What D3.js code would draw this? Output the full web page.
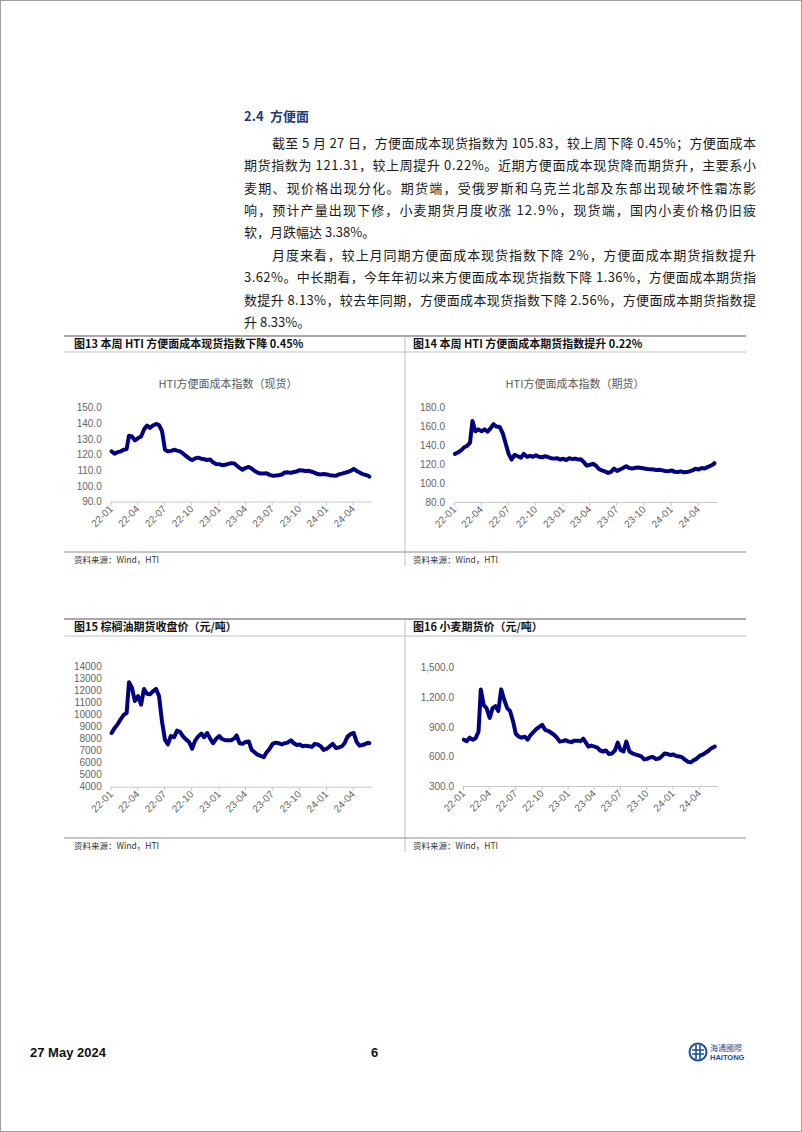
<!DOCTYPE html>
<html>
<head>
<meta charset="utf-8">
<script src="https://cdn.jsdelivr.net/npm/d3@7"></script>
<style>
  body { margin: 0; background: #fff; }
  svg { display: block; }
</style>
</head>
<body>
<script>
// sample dates (roughly every 10 days) shared by all four series
const dates = [
  "2022-01-04","2022-01-14","2022-01-24","2022-02-04","2022-02-14","2022-02-24",
  "2022-03-04","2022-03-14","2022-03-24","2022-04-04","2022-04-14","2022-04-24",
  "2022-05-04","2022-05-14","2022-05-24","2022-06-04","2022-06-14","2022-06-24",
  "2022-07-04","2022-07-14","2022-07-24","2022-08-04","2022-08-14","2022-08-24",
  "2022-09-04","2022-09-14","2022-09-24","2022-10-04","2022-10-14","2022-10-24",
  "2022-11-04","2022-11-14","2022-11-24","2022-12-04","2022-12-14","2022-12-24",
  "2023-01-04","2023-01-14","2023-01-24","2023-02-04","2023-02-14","2023-02-24",
  "2023-03-04","2023-03-14","2023-03-24","2023-04-04","2023-04-14","2023-04-24",
  "2023-05-04","2023-05-14","2023-05-24","2023-06-04","2023-06-14","2023-06-24",
  "2023-07-04","2023-07-14","2023-07-24","2023-08-04","2023-08-14","2023-08-24",
  "2023-09-04","2023-09-14","2023-09-24","2023-10-04","2023-10-14","2023-10-24",
  "2023-11-04","2023-11-14","2023-11-24","2023-12-04","2023-12-14","2023-12-24",
  "2024-01-04","2024-01-14","2024-01-24","2024-02-04","2024-02-14","2024-02-24",
  "2024-03-04","2024-03-14","2024-03-24","2024-04-04","2024-04-14","2024-04-24",
  "2024-05-04","2024-05-14","2024-05-24","2024-05-27"
];

// 图13 HTI方便面成本指数（现货）
const spotIndex = [
  122, 120.5, 121.5, 122, 123, 123.5,
  132, 131.5, 129, 130.5, 131.5, 136,
  138.5, 137, 138.5, 139.5, 138.8, 135,
  123, 122, 122.3, 123, 122.5, 122,
  120.5, 119, 117.5, 116.4, 117.5, 118,
  117.3, 117, 116.5, 116.8, 115, 114,
  113.8, 113.2, 113.5, 114, 114.5, 114.3,
  113, 111.5, 110.3, 111.5, 112, 111,
  109.5, 108.5, 107.8, 107.8, 108, 107,
  106.5, 106.6, 106.8, 107.2, 108.5, 108.6,
  108.3, 108.8, 109.2, 110, 109.8, 109.5,
  109.6, 109, 108.3, 107.5, 107.3, 107.6,
  107.3, 106.8, 106.6, 106.5, 107.3, 107.8,
  108.3, 108.8, 109.5, 110.8, 109.5, 108.5,
  107.5, 107, 106.4, 105.83
];

// 图14 HTI方便面成本指数（期货）
const futuresIndex = [
  131, 132.5, 134.5, 138, 139.5, 143,
  166, 155, 157, 155, 157, 154.5,
  158, 162.5, 160, 159.5, 153, 142,
  131, 125, 130, 128.5, 127, 131,
  128, 129, 128, 129.5, 128, 127.5,
  128.5, 127.5, 126.5, 126, 126.5, 125,
  125.8, 124.5, 126.5, 125.5, 126, 125,
  125.4, 122.5, 118.5, 119.5, 120.5, 118.5,
  115, 113.5, 112.5, 110.8, 112, 115.5,
  113, 114.5, 116, 118, 116, 115.5,
  116.2, 116.5, 116, 115.5, 115, 114.8,
  114.5, 114, 114.2, 113.5, 112.8, 112.6,
  113.5, 112, 111.8, 112.5, 111.5, 111.7,
  112.5, 113.5, 115.2, 114.5, 116, 115.5,
  117, 118.5, 120, 121.31
];

// 图15 棕榈油期货收盘价（元/吨）
const palmOil = [
  8450, 8850, 9150, 9600, 9950, 10100,
  12650, 12200, 11100, 11500, 10800, 12100,
  11700, 11650, 11900, 12100, 11500, 9400,
  7900, 7500, 8200, 8100, 8650, 8550,
  8150, 7900, 7700, 7150, 7800, 8150,
  8400, 8100, 8450, 8000, 7600, 7950,
  8200, 7950, 7850, 7850, 7850, 8000,
  8250, 7600, 7550, 7700, 7750, 7050,
  6850, 6650, 6550, 6450, 6850, 7150,
  7550, 7650, 7600, 7500, 7600, 7650,
  7850, 7600, 7450, 7500, 7350, 7400,
  7350, 7300, 7550, 7500, 7350, 7050,
  7150, 7350, 7550, 7200, 7250, 7350,
  7600, 8150, 8350, 8450, 7700, 7400,
  7450, 7550, 7650, 7600
];

// 图16 小麦期货价（元/吨）
const wheat = [
  770, 755, 790, 770, 785, 850,
  1280, 1120, 1090, 990, 1090, 1110,
  1060, 1280, 1180, 1090, 1060, 960,
  830, 800, 790, 800, 770, 815,
  850, 880, 900, 920, 870, 860,
  840, 820, 790, 750, 755, 765,
  750, 745, 760, 760, 755, 780,
  745, 700, 710, 700, 690, 660,
  650, 660, 625, 630, 660, 740,
  665, 650, 750, 650, 630, 620,
  610, 600, 570, 575, 590, 595,
  574, 578, 600, 630, 625, 614,
  620, 605, 600, 590, 565, 545,
  540, 560, 575, 605, 618, 635,
  655, 680, 695, 700
];

const xTickDates = ["2022-01-01","2022-04-01","2022-07-01","2022-10-01","2023-01-01",
  "2023-04-01","2023-07-01","2023-10-01","2024-01-01","2024-04-01"];

const spotTicks = [90, 100, 110, 120, 130, 140, 150];
const futuresTicks = [80, 100, 120, 140, 160, 180];
const palmTicks = [4000, 5000, 6000, 7000, 8000, 9000, 10000, 11000, 12000, 13000, 14000];
const wheatTicks = [300, 600, 900, 1200, 1500];

const para1 = [
  "截至 5 月 27 日，方便面成本现货指数为 105.83，较上周下降 0.45%；方便面成本",
  "期货指数为 121.31，较上周提升 0.22%。近期方便面成本现货降而期货升，主要系小",
  "麦期、现价格出现分化。期货端，受俄罗斯和乌克兰北部及东部出现破坏性霜冻影",
  "响，预计产量出现下修，小麦期货月度收涨 12.9%，现货端，国内小麦价格仍旧疲",
  "软，月跌幅达 3.38%。"
];
const para2 = [
  "月度来看，较上月同期方便面成本现货指数下降 2%，方便面成本期货指数提升",
  "3.62%。中长期看，今年年初以来方便面成本现货指数下降 1.36%，方便面成本期货指",
  "数提升 8.13%，较去年同期，方便面成本现货指数下降 2.56%，方便面成本期货指数提",
  "升 8.33%。"
];

const parseDate = d3.timeParse("%Y-%m-%d");
const dateObjs = dates.map(parseDate);
const tickObjs = xTickDates.map(parseDate);

const cjk = "'Noto Sans CJK SC', sans-serif";
const latin = "'Liberation Sans', Arial, sans-serif";

const svg = d3.select("body").append("svg")
  .attr("width", 802)
  .attr("height", 1132);

svg.append("rect")
  .attr("x", 0.5).attr("y", 0.5)
  .attr("width", 801).attr("height", 1131)
  .attr("fill", "none")
  .attr("stroke", "#a0a0a0");

// section heading
svg.append("text")
  .attr("x", 244).attr("y", 121)
  .attr("font-family", cjk).attr("font-weight", "bold").attr("font-size", 13)
  .attr("fill", "#1f3a78")
  .text("2.4");
svg.append("text")
  .attr("x", 270).attr("y", 121)
  .attr("font-family", cjk).attr("font-weight", "bold").attr("font-size", 13)
  .attr("fill", "#1f3a78")
  .text("方便面");

function paragraph(lines, y0) {
  lines.forEach((line, i) => {
    const x = i === 0 ? 272 : 244;
    const t = svg.append("text")
      .attr("x", x).attr("y", y0 + i * 22.3)
      .attr("font-family", cjk).attr("font-size", 13)
      .attr("fill", "#1a1a1a")
      .text(line);
    if (i < lines.length - 1) {
      t.attr("textLength", 756 - x).attr("lengthAdjust", "spacing");
    }
  });
}
paragraph(para1, 148);
paragraph(para2, 260);

// figure frames
const rows = [
  {top: 336, sub: 352, bottom: 552, src: 563, end: 566,
   titles: ["图13 本周 HTI 方便面成本现货指数下降 0.45%", "图14 本周 HTI 方便面成本期货指数提升 0.22%"]},
  {top: 619, sub: 636, bottom: 838, src: 849, end: 852,
   titles: ["图15 棕榈油期货收盘价（元/吨）", "图16 小麦期货价（元/吨）"]}
];

rows.forEach((r) => {
  svg.append("line").attr("x1", 64).attr("x2", 746).attr("y1", r.top).attr("y2", r.top)
    .attr("stroke", "#8c8c8c").attr("stroke-width", 1.5);
  svg.append("line").attr("x1", 64).attr("x2", 746).attr("y1", r.sub).attr("y2", r.sub)
    .attr("stroke", "#b0b0b0").attr("stroke-width", 0.8);
  svg.append("line").attr("x1", 64).attr("x2", 746).attr("y1", r.bottom).attr("y2", r.bottom)
    .attr("stroke", "#8c8c8c").attr("stroke-width", 1.2);
  svg.append("line").attr("x1", 405).attr("x2", 405).attr("y1", r.top).attr("y2", r.end)
    .attr("stroke", "#b0b0b0").attr("stroke-width", 0.8);
  [74, 413].forEach((x, i) => {
    svg.append("text")
      .attr("x", x).attr("y", r.top + 11.5)
      .attr("font-family", cjk).attr("font-weight", "bold").attr("font-size", 11)
      .attr("fill", "#111")
      .text(r.titles[i]);
    svg.append("text")
      .attr("x", x).attr("y", r.src)
      .attr("font-family", cjk).attr("font-size", 8.5)
      .attr("fill", "#333")
      .text("资料来源：Wind，HTI");
  });
});

function drawChart(opt) {
  const x = d3.scaleTime()
    .domain([parseDate("2022-01-01"), parseDate("2024-06-01")])
    .range(opt.xr);
  const y = d3.scaleLinear().domain(opt.yd).range(opt.yr);
  const g = svg.append("g");

  if (opt.title) {
    g.append("text")
      .attr("x", opt.titleX).attr("y", 388)
      .attr("text-anchor", "middle")
      .attr("font-family", cjk).attr("font-size", 11)
      .attr("fill", "#595959")
      .text(opt.title);
  }

  const yAxis = g.append("g")
    .attr("transform", "translate(" + opt.xr[0] + ",0)")
    .call(d3.axisLeft(y).tickValues(opt.ticks).tickSize(0).tickPadding(9).tickFormat(opt.fmt));
  yAxis.select(".domain").remove();
  yAxis.selectAll("text")
    .attr("font-family", latin).attr("font-size", 10).attr("fill", "#666");

  const xAxis = g.append("g")
    .attr("transform", "translate(0," + opt.yr[0] + ")")
    .call(d3.axisBottom(x).tickValues(tickObjs).tickSize(4).tickSizeOuter(0)
      .tickFormat(d3.timeFormat("%y-%m")));
  xAxis.select(".domain").attr("stroke", "#c8c8c8")
    .attr("d", "M" + opt.xr[0] + ",0.5H" + (opt.xr[1] + 1.5));
  xAxis.selectAll(".tick line").attr("stroke", "#c8c8c8");
  xAxis.selectAll("text")
    .attr("x", -4).attr("y", 4).attr("dy", "0.35em")
    .attr("transform", "rotate(-45)")
    .style("text-anchor", "end")
    .attr("font-family", latin).attr("font-size", 10).attr("fill", "#666");

  const line = d3.line()
    .x((d, i) => x(dateObjs[i]))
    .y((d) => y(d));

  g.append("path")
    .datum(opt.values)
    .attr("d", line)
    .attr("fill", "none")
    .attr("stroke", "#000080")
    .attr("stroke-width", 4)
    .attr("stroke-linejoin", "round")
    .attr("stroke-linecap", "round");
}

drawChart({values: spotIndex, xr: [110.7, 370.8], yd: [90, 150], yr: [501.5, 407.5],
  ticks: spotTicks, fmt: d3.format(".1f"), title: "HTI方便面成本指数（现货）", titleX: 228});
drawChart({values: futuresIndex, xr: [454, 715.9], yd: [80, 180], yr: [502, 407.7],
  ticks: futuresTicks, fmt: d3.format(".1f"), title: "HTI方便面成本指数（期货）", titleX: 575});
drawChart({values: palmOil, xr: [110.7, 370.8], yd: [4000, 14000], yr: [786.7, 666],
  ticks: palmTicks, fmt: d3.format("d")});
drawChart({values: wheat, xr: [463, 716.2], yd: [300, 1500], yr: [786, 667.7],
  ticks: wheatTicks, fmt: d3.format(",.1f")});

// footer
svg.append("text")
  .attr("x", 30).attr("y", 1057)
  .attr("font-family", latin).attr("font-weight", "bold").attr("font-size", 13)
  .attr("fill", "#111")
  .text("27 May 2024");
svg.append("text")
  .attr("x", 371).attr("y", 1057)
  .attr("font-family", latin).attr("font-weight", "bold").attr("font-size", 13)
  .attr("fill", "#111")
  .text("6");

const logo = svg.append("g").attr("transform", "translate(698,1052)");
logo.append("circle").attr("r", 8.5).attr("fill", "none").attr("stroke", "#1b4f9c").attr("stroke-width", 2);
logo.append("path").attr("d", "M-6,-2H6M-6,2H6M-2,-7V7M2,-7V7")
  .attr("stroke", "#1b4f9c").attr("stroke-width", 1.6).attr("fill", "none");
logo.append("text").attr("x", 12).attr("y", -1)
  .attr("font-family", cjk).attr("font-size", 8).attr("fill", "#1b4f9c")
  .text("海通國際");
logo.append("text").attr("x", 12).attr("y", 8)
  .attr("font-family", latin).attr("font-weight", "bold").attr("font-size", 7.5).attr("fill", "#1b4f9c")
  .text("HAITONG");
</script>
</body>
</html>
